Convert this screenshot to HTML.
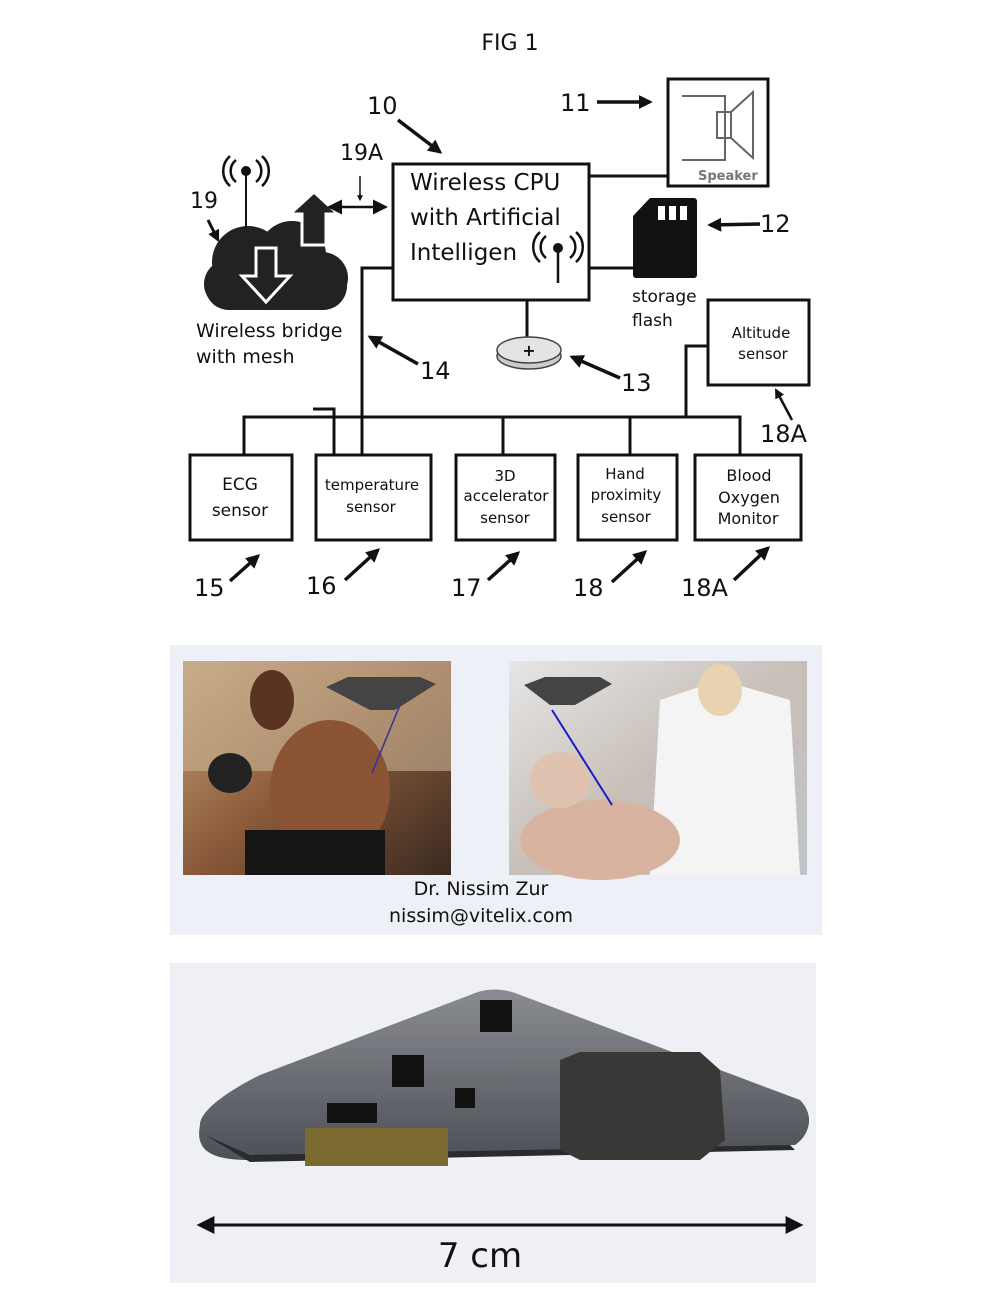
<!DOCTYPE html>
<html><head><meta charset="utf-8"><style>
html,body{margin:0;padding:0;background:#fff}
svg{display:block}
text{font-family:"DejaVu Sans","Liberation Sans",sans-serif}
</style></head><body>
<svg width="1000" height="1294" viewBox="0 0 1000 1294" xmlns="http://www.w3.org/2000/svg">
<defs>
<marker id="ah" viewBox="0 0 10 10" refX="8" refY="5" markerWidth="4" markerHeight="4" orient="auto"><path d="M0,0L10,5L0,10z" fill="#111"/></marker>
<marker id="ahs" viewBox="0 0 10 10" refX="8" refY="5" markerWidth="6" markerHeight="6" orient="auto-start-reverse"><path d="M0,0L10,5L0,10z" fill="#111"/></marker>
<linearGradient id="gym" x1="0" y1="0" x2="1" y2="1"><stop offset="0" stop-color="#c9a37a"/><stop offset="0.5" stop-color="#8a5a3a"/><stop offset="1" stop-color="#3a2a20"/></linearGradient>
<linearGradient id="hosp" x1="0" y1="0" x2="1" y2="1"><stop offset="0" stop-color="#e6e6e6"/><stop offset="0.5" stop-color="#c8bfb8"/><stop offset="1" stop-color="#bfc3c8"/></linearGradient>
<linearGradient id="pcb" x1="0" y1="0" x2="0" y2="1"><stop offset="0" stop-color="#8a8c92"/><stop offset="1" stop-color="#4e5057"/></linearGradient>
</defs>
<text x="510" y="50" font-size="22" text-anchor="middle" fill="#111">FIG 1</text>

<!-- CPU -->
<rect x="393" y="164" width="196" height="136" fill="#fff" stroke="#111" stroke-width="3"/>
<text x="410" y="190" font-size="23" fill="#111">Wireless CPU</text>
<text x="410" y="225" font-size="23" fill="#111">with Artificial</text>
<text x="410" y="260" font-size="23" fill="#111">Intelligen</text>
<g stroke="#111" stroke-width="2.5" fill="none">
<line x1="558" y1="251" x2="558" y2="283"/>
<path d="M546,236 a14,14 0 0 0 0,22"/><path d="M540,232 a20,20 0 0 0 0,30"/>
<path d="M570,236 a14,14 0 0 1 0,22"/><path d="M576,232 a20,20 0 0 1 0,30"/>
</g><circle cx="558" cy="248" r="5" fill="#111"/>

<!-- speaker -->
<rect x="668" y="79" width="100" height="107" fill="#fff" stroke="#111" stroke-width="3"/>
<g stroke="#666" stroke-width="2" fill="none"><path d="M682,96H725V160H682"/><rect x="717" y="112" width="14" height="26"/><path d="M731,112L753,92V158L731,138"/></g>
<text x="698" y="180" font-size="13" fill="#777" font-family="Liberation Mono" font-weight="bold">Speaker</text>
<path d="M589,176H668" stroke="#111" stroke-width="3"/>

<!-- SD card -->
<path d="M650,198H694a3,3 0 0 1 3,3V275a3,3 0 0 1 -3,3H636a3,3 0 0 1 -3,-3V216z" fill="#111"/>
<rect x="658" y="206" width="7" height="14" fill="#fff"/><rect x="669" y="206" width="7" height="14" fill="#fff"/><rect x="680" y="206" width="7" height="14" fill="#fff"/>
<path d="M589,268H633" stroke="#111" stroke-width="3"/>
<text x="632" y="302" font-size="17" fill="#111">storage</text>
<text x="632" y="326" font-size="17" fill="#111">flash</text>

<!-- battery -->
<line x1="527" y1="300" x2="527" y2="340" stroke="#111" stroke-width="3"/>
<ellipse cx="529" cy="356" rx="32" ry="13" fill="#ccc" stroke="#444" stroke-width="1.5"/>
<ellipse cx="529" cy="350" rx="32" ry="13" fill="#e4e4e4" stroke="#444" stroke-width="1.5"/>
<text x="529" y="356" font-size="16" text-anchor="middle" fill="#111" font-weight="bold">+</text>

<!-- cloud -->
<g fill="#222">
<circle cx="248" cy="262" r="36"/><circle cx="292" cy="255" r="34"/><circle cx="322" cy="278" r="26"/><circle cx="228" cy="284" r="24"/>
<rect x="205" y="262" width="142" height="48" rx="24"/>
</g>
<path d="M302,245V214H290L314,192L338,214H326V245z" fill="#222" stroke="#fff" stroke-width="3"/>
<path d="M256,248H276V276H290L266,302L242,276H256z" fill="#222" stroke="#fff" stroke-width="3"/>
<line x1="246" y1="170" x2="246" y2="228" stroke="#111" stroke-width="2"/>
<circle cx="246" cy="171" r="5" fill="#111"/>
<g stroke="#111" stroke-width="2.5" fill="none"><path d="M236,160 a14,14 0 0 0 0,22"/><path d="M230,156 a20,20 0 0 0 0,30"/><path d="M256,160 a14,14 0 0 1 0,22"/><path d="M262,156 a20,20 0 0 1 0,30"/></g>
<text x="196" y="337" font-size="19" fill="#111">Wireless bridge</text>
<text x="196" y="363" font-size="19" fill="#111">with mesh</text>
<text x="190" y="208" font-size="22" fill="#111">19</text>
<line x1="208" y1="220" x2="218" y2="240" stroke="#111" stroke-width="3" marker-end="url(#ah)"/>
<line x1="330" y1="207" x2="385" y2="207" stroke="#111" stroke-width="2.5" marker-start="url(#ahs)" marker-end="url(#ahs)"/>
<text x="340" y="160" font-size="22" fill="#111">19A</text>
<line x1="360" y1="176" x2="360" y2="200" stroke="#111" stroke-width="1.5" marker-end="url(#ah)"/>

<!-- labels top -->
<text x="367" y="114" font-size="24" fill="#111">10</text>
<line x1="398" y1="120" x2="440" y2="152" stroke="#111" stroke-width="3.5" marker-end="url(#ah)"/>
<text x="560" y="111" font-size="24" fill="#111">11</text>
<line x1="597" y1="102" x2="650" y2="102" stroke="#111" stroke-width="3.5" marker-end="url(#ah)"/>
<text x="760" y="232" font-size="24" fill="#111">12</text>
<line x1="760" y1="224" x2="710" y2="225" stroke="#111" stroke-width="3.5" marker-end="url(#ah)"/>
<text x="621" y="391" font-size="24" fill="#111">13</text>
<line x1="620" y1="378" x2="572" y2="357" stroke="#111" stroke-width="3.5" marker-end="url(#ah)"/>
<text x="420" y="379" font-size="24" fill="#111">14</text>
<line x1="418" y1="364" x2="370" y2="337" stroke="#111" stroke-width="3.5" marker-end="url(#ah)"/>

<!-- bus -->
<g stroke="#111" stroke-width="3" fill="none">
<path d="M393,268H362V455"/>
<path d="M244,455V417H740V455"/>
<path d="M503,417V455M630,417V455"/>
<path d="M313,409H334V455"/>
<path d="M686,417V346H708"/>
</g>

<!-- altitude -->
<rect x="708" y="300" width="101" height="85" fill="#fff" stroke="#111" stroke-width="3"/>
<text x="761" y="338" font-size="15" text-anchor="middle" fill="#111">Altitude</text>
<text x="763" y="359" font-size="15" text-anchor="middle" fill="#111">sensor</text>
<text x="760" y="442" font-size="24" fill="#111">18A</text>
<line x1="792" y1="420" x2="776" y2="390" stroke="#111" stroke-width="2.5" marker-end="url(#ah)"/>

<!-- sensors -->
<g fill="#fff" stroke="#111" stroke-width="3">
<rect x="190" y="455" width="102" height="85"/><rect x="316" y="455" width="115" height="85"/><rect x="456" y="455" width="99" height="85"/><rect x="578" y="455" width="99" height="85"/><rect x="695" y="455" width="106" height="85"/>
</g>
<g font-size="15" text-anchor="middle" fill="#111">
<text x="240" y="490" font-size="17">ECG</text><text x="240" y="516" font-size="17">sensor</text>
<text x="372" y="490">temperature</text><text x="371" y="512">sensor</text>
<text x="505" y="481">3D</text><text x="506" y="501">accelerator</text><text x="505" y="523">sensor</text>
<text x="625" y="479">Hand</text><text x="626" y="500">proximity</text><text x="626" y="522">sensor</text>
<text x="749" y="481" font-size="16">Blood</text><text x="749" y="503" font-size="16">Oxygen</text><text x="748" y="524" font-size="16">Monitor</text>
</g>
<g font-size="24" fill="#111">
<text x="194" y="596">15</text><text x="306" y="594">16</text><text x="451" y="596">17</text><text x="573" y="596">18</text><text x="681" y="596">18A</text>
</g>
<g stroke="#111" stroke-width="3.5" marker-end="url(#ah)">
<line x1="230" y1="581" x2="258" y2="556"/><line x1="345" y1="580" x2="378" y2="550"/><line x1="488" y1="580" x2="518" y2="553"/><line x1="612" y1="582" x2="645" y2="552"/><line x1="734" y1="580" x2="768" y2="548"/>
</g>

<!-- photos band -->
<rect x="170" y="645" width="652" height="290" fill="#eef0f7"/>
<rect x="183" y="661" width="268" height="214" fill="url(#gym)"/>
<rect x="183" y="661" width="268" height="110" fill="#c8b395" opacity="0.6"/>
<ellipse cx="330" cy="790" rx="60" ry="70" fill="#8a5435"/>
<ellipse cx="272" cy="700" rx="22" ry="30" fill="#5a3420"/>
<rect x="245" y="830" width="140" height="45" fill="#151515"/>
<ellipse cx="230" cy="773" rx="22" ry="20" fill="#222"/>
<path d="M326,687L348,677H420L436,684L395,710H370z" fill="#444"/>
<line x1="400" y1="705" x2="372" y2="773" stroke="#33339a" stroke-width="1.5"/>
<rect x="509" y="661" width="298" height="214" fill="url(#hosp)"/>
<path d="M660,700L720,680L790,700L800,875H650z" fill="#f4f4f4"/>
<ellipse cx="720" cy="690" rx="22" ry="26" fill="#e8d2b0"/>
<ellipse cx="600" cy="840" rx="80" ry="40" fill="#d8b4a0"/>
<ellipse cx="560" cy="780" rx="30" ry="28" fill="#e0c2b0"/>
<path d="M524,685L545,677H600L612,684L575,705H550z" fill="#444"/>
<line x1="552" y1="710" x2="612" y2="805" stroke="#1a1acc" stroke-width="2"/>
<text x="481" y="895" font-size="19" text-anchor="middle" fill="#111">Dr. Nissim Zur</text>
<text x="481" y="922" font-size="19" text-anchor="middle" fill="#111">nissim@vitelix.com</text>

<!-- board -->
<rect x="170" y="963" width="646" height="320" fill="#eff0f6"/>
<path d="M200,1125C200,1110 230,1090 260,1075L470,995C485,988 500,988 515,993L800,1100C815,1115 810,1135 795,1145L250,1160C210,1160 195,1150 200,1125z" fill="url(#pcb)"/>
<path d="M205,1135L250,1162L795,1150L790,1145L250,1155z" fill="#2a2b2e"/>
<rect x="305" y="1128" width="143" height="38" fill="#7a6a30"/>
<path d="M560,1060L580,1052H700L720,1070L725,1140L700,1160H580L560,1150z" fill="#3a3836"/>
<rect x="480" y="1000" width="32" height="32" fill="#111"/>
<rect x="392" y="1055" width="32" height="32" fill="#111"/>
<rect x="455" y="1088" width="20" height="20" fill="#111"/>
<rect x="327" y="1103" width="50" height="20" fill="#111"/>
<g stroke="#111" stroke-width="3"><line x1="200" y1="1225" x2="800" y2="1225" marker-start="url(#ahs)" marker-end="url(#ahs)"/></g>
<text x="480" y="1267" font-size="34" text-anchor="middle" fill="#111">7 cm</text>
</svg>
</body></html>
